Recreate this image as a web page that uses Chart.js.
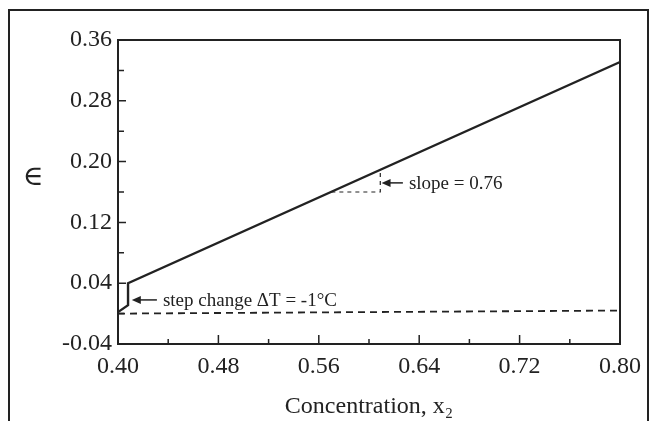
<!DOCTYPE html>
<html>
<head>
<meta charset="utf-8">
<script src="https://cdn.jsdelivr.net/npm/chart.js@4"></script>
<style>
  html, body { margin: 0; padding: 0; background: #fff; }
  #wrap { position: relative; width: 649px; height: 421px; overflow: hidden; }
  #frame { position: absolute; left: 8px; top: 9px; width: 641px; height: 420px;
           border-left: 2px solid #222; border-top: 2px solid #222; border-right: 2px solid #222;
           box-sizing: border-box; }
  canvas { position: absolute; left: 0; top: 0; }
</style>
</head>
<body>
<div id="wrap">
  <div id="frame"></div>
  <canvas id="chart" width="649" height="421"></canvas>
</div>
<script>
/* ---- data ---- */
var STEP_X = [0.400, 0.408, 0.408, 0.800];
var STEP_Y = [0.002, 0.011, 0.040, 0.331];
var BASE_X = [0.400, 0.800];
var BASE_Y = [0.000, 0.004];
var SLOPE_X = [0.570, 0.609, 0.609];
var SLOPE_Y = [0.160, 0.160, 0.186];

var X_MIN = 0.40, X_MAX = 0.80, X_STEP = 0.04;
var Y_MIN = -0.04, Y_MAX = 0.36, Y_STEP = 0.04;

var X_TITLE = 'Concentration, x\u2082';
var Y_TITLE = '\u2208';

// annotations: [arrow tail x, tail y, head x, head y, text]
var NOTES = [
  [0.431, 0.018, 0.411, 0.018, 'step change \u0394T = -1\u00B0C'],
  [0.627, 0.172, 0.610, 0.172, 'slope = 0.76']
];

var INK = '#222';
var SERIF = '"Liberation Serif", "DejaVu Serif", serif';

function pts(xs, ys) {
  return xs.map(function(x, i) { return { x: x, y: ys[i] }; });
}

var framePlugin = {
  id: 'frameTicks',
  afterDatasetsDraw: function(chart) {
    var ctx = chart.ctx, a = chart.chartArea;
    ctx.save();
    ctx.strokeStyle = INK;
    ctx.lineWidth = 2;
    ctx.strokeRect(a.left, a.top, a.right - a.left, a.bottom - a.top);
    // inward ticks
    ctx.lineWidth = 1.5;
    ctx.beginPath();
    chart.scales.x.ticks.forEach(function(t, i) {
      var px = chart.scales.x.getPixelForValue(t.value);
      var len = (i % 2 === 0) ? 9 : 5;
      ctx.moveTo(px, a.bottom);
      ctx.lineTo(px, a.bottom - len);
    });
    chart.scales.y.ticks.forEach(function(t, i) {
      var py = chart.scales.y.getPixelForValue(t.value);
      var len = (i % 2 === 0) ? 8 : 6;
      ctx.moveTo(a.left, py);
      ctx.lineTo(a.left + len, py);
    });
    ctx.stroke();
    ctx.restore();
  },
  afterDraw: function(chart) {
    var ctx = chart.ctx, sx = chart.scales.x, sy = chart.scales.y;
    ctx.save();
    ctx.fillStyle = INK;
    ctx.strokeStyle = INK;
    // y title, drawn upright
    ctx.font = '28px ' + SERIF;
    ctx.textAlign = 'center';
    ctx.textBaseline = 'middle';
    ctx.fillText(Y_TITLE, 33, 178);

    ctx.font = '19px ' + SERIF;
    ctx.textAlign = 'left';
    NOTES.forEach(function(n) {
      var x0 = sx.getPixelForValue(n[0]), y0 = sy.getPixelForValue(n[1]);
      var x1 = sx.getPixelForValue(n[2]), y1 = sy.getPixelForValue(n[3]);
      ctx.lineWidth = 1.5;
      ctx.beginPath();
      ctx.moveTo(x0, y0);
      ctx.lineTo(x1 + 6, y1);
      ctx.stroke();
      ctx.beginPath();
      ctx.moveTo(x1, y1);
      ctx.lineTo(x1 + 9, y1 - 4);
      ctx.lineTo(x1 + 9, y1 + 4);
      ctx.closePath();
      ctx.fill();
      ctx.fillText(n[4], x0 + 6, y0 + 1);
    });
    ctx.restore();
  }
};

new Chart(document.getElementById('chart'), {
  type: 'scatter',
  data: {
    datasets: [
      { data: pts(STEP_X, STEP_Y), showLine: true, borderColor: INK, borderWidth: 2.4,
        pointRadius: 0, fill: false },
      { data: pts(BASE_X, BASE_Y), showLine: true, borderColor: INK, borderWidth: 1.8,
        borderDash: [7, 5], pointRadius: 0, fill: false },
      { data: pts(SLOPE_X, SLOPE_Y), showLine: true, borderColor: INK, borderWidth: 1.2,
        borderDash: [4, 4], pointRadius: 0, fill: false }
    ]
  },
  options: {
    responsive: false,
    animation: false,
    events: [],
    layout: { padding: { left: 0, right: 26, top: 40, bottom: 0 } },
    plugins: { legend: { display: false }, tooltip: { enabled: false } },
    scales: {
      x: {
        type: 'linear', min: X_MIN, max: X_MAX,
        grid: { display: false, drawTicks: false },
        border: { display: false },
        ticks: {
          stepSize: X_STEP, autoSkip: false, maxRotation: 0, padding: 8,
          color: INK, font: { family: SERIF, size: 24 },
          callback: function(v, i) { return i % 2 === 0 ? v.toFixed(2) : ''; }
        },
        title: { display: true, text: X_TITLE, color: INK,
                 font: { family: SERIF, size: 24 }, padding: { top: 0, bottom: 0 } },
        afterFit: function(s) { s.height = 77; }
      },
      y: {
        type: 'linear', min: Y_MIN, max: Y_MAX,
        grid: { display: false, drawTicks: false },
        border: { display: false },
        ticks: {
          stepSize: Y_STEP, autoSkip: false, padding: 6,
          color: INK, font: { family: SERIF, size: 24 },
          callback: function(v, i) { return i % 2 === 0 ? v.toFixed(2) : ''; }
        },
        afterFit: function(s) { s.width = 118; }
      }
    }
  },
  plugins: [framePlugin]
});
</script>
</body>
</html>
